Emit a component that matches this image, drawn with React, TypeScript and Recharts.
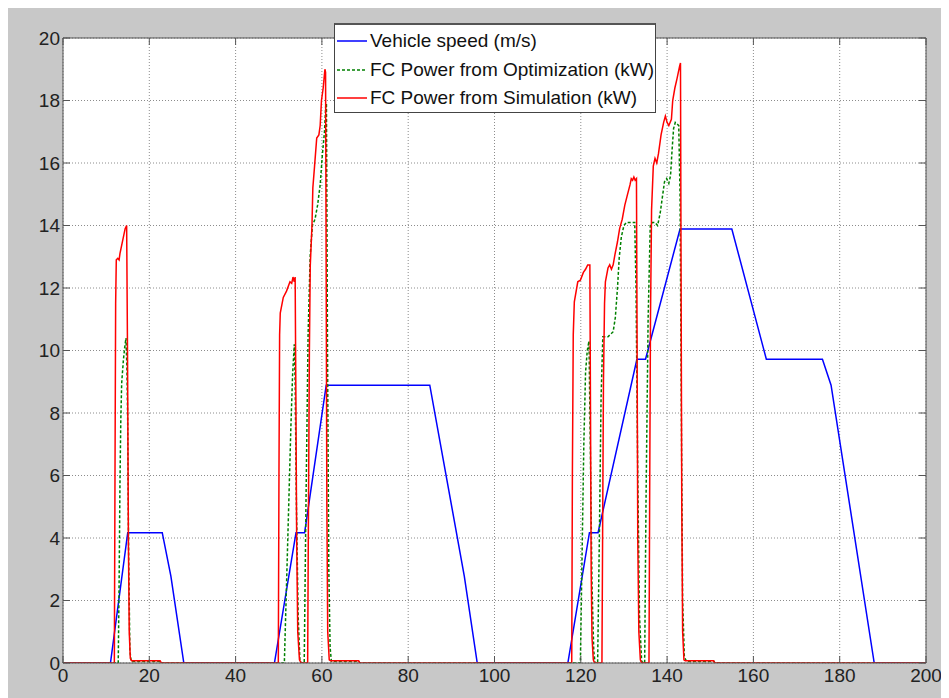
import React from 'react';
import { LineChart, Line, XAxis, YAxis, CartesianGrid, Legend, ReferenceLine } from 'recharts';

// ---- Data ----
const xTicks = [0, 20, 40, 60, 80, 100, 120, 140, 160, 180, 200];
const yTicks = [0, 2, 4, 6, 8, 10, 12, 14, 16, 18, 20];

const seriesNames = ['Vehicle speed (m/s)', 'FC Power from Optimization (kW)', 'FC Power from Simulation (kW)'];

// Vehicle speed (m/s)
const speedTime = [0, 11, 15, 23, 25, 28, 49, 54, 56, 61, 85, 93, 96, 117, 122, 124, 133, 135, 143, 155, 163, 176, 178, 188, 200];
const speedValue = [0, 0, 4.17, 4.17, 2.78, 0, 0, 4.17, 4.17, 8.89, 8.89, 2.78, 0, 0, 4.17, 4.17, 9.72, 9.72, 13.89, 13.89, 9.72, 9.72, 8.89, 0, 0];

// FC power from optimization (kW)
const optTime = [
  0, 12.8, 13.0, 13.2, 13.4, 13.6, 14.0, 14.3, 14.6, 14.8, 14.98, 15.2, 15.5, 15.8, 22.7, 22.9,
  51.3, 51.8, 52.3, 52.8, 53.2, 53.6, 53.8, 54.1, 54.5, 54.9, 55.3,
  55.9, 56.3, 56.8, 57.3, 57.8, 58.4, 59.0, 59.6, 60.1, 60.6, 60.9, 61.05, 61.3, 61.6, 61.9, 62.2, 68.6, 68.8,
  119.9, 120.3, 120.7, 121.1, 121.5, 121.9, 122.2, 122.6, 123.0, 123.3,
  123.9, 124.3, 124.7, 125.1, 126.3, 127.5, 128.0, 128.5, 128.9, 129.4, 130.0, 130.6, 132.5, 132.8, 133.2, 133.6, 134.1, 134.6,
  134.8, 135.1, 135.6, 136.1, 136.6, 137.2, 137.8, 138.4, 138.9, 139.4, 139.9, 140.4, 140.8, 141.1, 141.5, 141.9, 142.7, 143.0, 143.3, 143.6, 144.0, 144.5, 150.9, 151.1,
  200,
];
const optValue = [
  0, 0, 2.5, 5.75, 7.8, 8.96, 9.7, 10.1, 10.4, 9.5, 7.9, 3.6, 0.4, 0.05, 0.05, 0,
  0, 2.5, 5.0, 7.5, 9.2, 10.2, 9.0, 5.0, 1.5, 0.1, 0,
  0, 5.0, 10.5, 13.06, 14.0, 14.2, 14.65, 15.3, 16.25, 17.0, 17.86, 17.9, 10.0, 3.0, 0.5, 0.05, 0.05, 0,
  0, 3.5, 7.0, 9.3, 10.0, 10.3, 7.0, 2.5, 0.4, 0,
  0, 4.0, 8.5, 10.44, 10.44, 10.6, 11.05, 12.0, 12.96, 13.64, 14.0, 14.1, 14.1, 12.0, 6.0, 1.5, 0.05, 0,
  0, 5.0, 11.0, 14.0, 14.1, 14.1, 14.0, 14.4, 14.9, 15.4, 15.5, 15.35, 15.6, 16.3, 17.1, 17.3, 17.2, 15.0, 8.0, 2.0, 0.2, 0.05, 0.05, 0,
  0,
];

// FC power from simulation (kW)
const simTime = [
  0, 11.9, 12.05, 12.2, 12.35, 12.7, 13.0, 13.2, 13.8, 14.4, 14.75, 14.95, 15.15, 15.35, 15.6, 15.9, 22.5, 22.8,
  49.9, 50.05, 50.2, 50.35, 51.05, 51.8, 52.6, 53.0, 53.3, 53.6, 53.8, 53.95, 54.15, 54.4, 54.8, 55.2,
  56.7, 56.85, 57.1, 57.3, 57.7, 57.9, 58.3, 58.8, 59.3, 59.6, 59.9, 60.3, 60.7, 60.85, 61.0, 61.15, 61.35, 61.7, 62.0, 68.5, 68.8,
  117.9, 118.05, 118.25, 118.5, 119.3, 119.9, 120.6, 121.1, 121.6, 122.1, 122.25, 122.4, 122.6, 122.9, 123.2,
  124.9, 125.05, 125.25, 125.5, 125.7, 126.3, 126.7, 127.1, 127.5, 127.9, 128.5, 129.0, 129.6, 130.2, 130.8, 131.4, 131.7, 132.0, 132.3, 132.6, 132.9, 133.05, 133.2, 133.45, 133.8, 134.1,
  135.8, 135.95, 136.15, 136.4, 136.8, 137.2, 137.6, 138.0, 138.6, 139.2, 139.6, 140.0, 140.4, 141.0, 141.3, 141.8, 142.3, 142.9, 143.1, 143.25, 143.4, 143.6, 143.9, 144.2, 150.8, 151.0,
  200,
];
const simValue = [
  0, 0, 6.0, 11.5, 12.9, 12.95, 12.9, 13.1, 13.5, 13.9, 14.0, 10.0, 4.0, 1.0, 0.15, 0.07, 0.07, 0,
  0, 6.0, 10.5, 11.2, 11.7, 11.9, 12.2, 12.15, 12.35, 12.2, 12.35, 9.0, 4.0, 1.0, 0.1, 0,
  0, 4.0, 10.0, 12.7, 14.0, 15.2, 15.9, 16.8, 16.9, 17.2, 18.0, 18.4, 19.0, 18.9, 12.0, 5.0, 1.0, 0.1, 0.07, 0.07, 0,
  0, 6.0, 10.5, 11.56, 12.2, 12.25, 12.5, 12.6, 12.74, 12.74, 8.0, 3.0, 0.8, 0.1, 0,
  0, 4.0, 9.0, 11.5, 12.2, 12.64, 12.74, 12.6, 12.74, 13.06, 13.48, 13.9, 14.2, 14.65, 14.98, 15.3, 15.5, 15.45, 15.55, 15.45, 15.5, 10.0, 4.0, 1.0, 0.1, 0,
  0, 5.0, 11.0, 14.5, 15.9, 16.15, 16.0, 16.3, 16.9, 17.3, 17.5, 17.3, 17.2, 17.4, 18.0, 18.4, 18.7, 19.1, 19.2, 12.0, 5.0, 1.0, 0.1, 0.07, 0.07, 0,
  0,
];

const toPoints = (t: number[], v: number[]) => t.map((x, i) => ({ t: x, v: v[i] }));
const speedData = toPoints(speedTime, speedValue);
const optData = toPoints(optTime, optValue);
const simData = toPoints(simTime, simValue);

// ---- Layout / style ----
const CHART_W = 941;
const CHART_H = 690;
const Y_AXIS_W = 55;
const PLOT_TOP = 30;
const PLOT_W = 863;
const PLOT_H = 625;
const PLOT_LEFT = Y_AXIS_W;
const PLOT_RIGHT = PLOT_LEFT + PLOT_W;
const PLOT_BOTTOM = PLOT_TOP + PLOT_H;
const TICK_LEN = 7;
const AXIS_COLOR = '#555555';
const FONT = '"Liberation Sans", Arial, Helvetica, sans-serif';

const XTick = (props: any) => {
  const { x, payload } = props;
  return (
    <g>
      <line x1={x} x2={x} y1={PLOT_BOTTOM} y2={PLOT_BOTTOM - TICK_LEN} stroke={AXIS_COLOR} />
      <line x1={x} x2={x} y1={PLOT_TOP} y2={PLOT_TOP + TICK_LEN} stroke={AXIS_COLOR} />
      <text x={x} y={PLOT_BOTTOM + 6} dy="0.71em" textAnchor="middle" fontFamily={FONT} fontSize={19} fill="#222">
        {payload.value}
      </text>
    </g>
  );
};

const YTick = (props: any) => {
  const { y, payload } = props;
  return (
    <g>
      <line x1={PLOT_LEFT} x2={PLOT_LEFT + TICK_LEN} y1={y} y2={y} stroke={AXIS_COLOR} />
      <line x1={PLOT_RIGHT} x2={PLOT_RIGHT - TICK_LEN} y1={y} y2={y} stroke={AXIS_COLOR} />
      <text x={PLOT_LEFT - 3} y={y} dy="0.355em" textAnchor="end" fontFamily={FONT} fontSize={19} fill="#222">
        {payload.value}
      </text>
    </g>
  );
};

const LegendBox = (props: any) => {
  const payload = [...(props.payload || [])].sort(
    (a: any, b: any) => seriesNames.indexOf(a.value) - seriesNames.indexOf(b.value)
  );
  return (
    <div
      style={{
        width: 322,
        height: 90,
        boxSizing: 'border-box',
        background: '#ffffff',
        border: '1px solid #444',
        borderTop: '2px solid #555',
        fontFamily: FONT,
        fontSize: 19,
        color: '#111',
        paddingTop: 2,
      }}
    >
      {payload.map((entry: any, i: number) => (
        <div key={i} style={{ display: 'flex', alignItems: 'center', height: 28.5, whiteSpace: 'nowrap' }}>
          <svg width={35} height={10} style={{ flex: 'none' }}>
            <line
              x1={2}
              x2={32}
              y1={5}
              y2={5}
              stroke={entry.color}
              strokeWidth={1.5}
              strokeDasharray={entry.payload && entry.payload.strokeDasharray}
            />
          </svg>
          <span>{entry.value}</span>
        </div>
      ))}
    </div>
  );
};

export default function App() {
  return (
    <div style={{ width: CHART_W, height: CHART_H, background: '#c8c8c8' }}>
      <LineChart
        width={CHART_W}
        height={CHART_H}
        margin={{ top: PLOT_TOP, right: CHART_W - PLOT_RIGHT, bottom: CHART_H - PLOT_BOTTOM - 30, left: 0 }}
      >
        <CartesianGrid fill="#ffffff" stroke="#8c8c8c" strokeDasharray="1 2" />
        <XAxis
          type="number"
          dataKey="t"
          domain={[0, 200]}
          ticks={xTicks}
          allowDataOverflow
          height={30}
          tickSize={0}
          tickLine={false}
          tick={<XTick />}
          axisLine={{ stroke: AXIS_COLOR }}
          interval={0}
        />
        <YAxis
          type="number"
          domain={[0, 20]}
          ticks={yTicks}
          allowDataOverflow
          width={Y_AXIS_W}
          tickSize={0}
          tickLine={false}
          tick={<YTick />}
          axisLine={{ stroke: AXIS_COLOR }}
          interval={0}
        />
        <ReferenceLine y={20} stroke={AXIS_COLOR} />
        <ReferenceLine x={200} stroke={AXIS_COLOR} />
        <Line
          data={speedData}
          dataKey="v"
          name={seriesNames[0]}
          type="linear"
          stroke="#0000ff"
          strokeWidth={1.5}
          dot={false}
          activeDot={false}
          isAnimationActive={false}
        />
        <Line
          data={optData}
          dataKey="v"
          name={seriesNames[1]}
          type="linear"
          stroke="#008000"
          strokeWidth={1.5}
          strokeDasharray="3 2"
          dot={false}
          activeDot={false}
          isAnimationActive={false}
        />
        <Line
          data={simData}
          dataKey="v"
          name={seriesNames[2]}
          type="linear"
          stroke="#ff0000"
          strokeWidth={1.5}
          dot={false}
          activeDot={false}
          isAnimationActive={false}
        />
        <Legend
          layout="vertical"
          align="center"
          verticalAlign="middle"
          content={<LegendBox />}
          wrapperStyle={{ position: 'absolute', left: 326, top: 15, width: 322, height: 90 }}
        />
      </LineChart>
    </div>
  );
}
